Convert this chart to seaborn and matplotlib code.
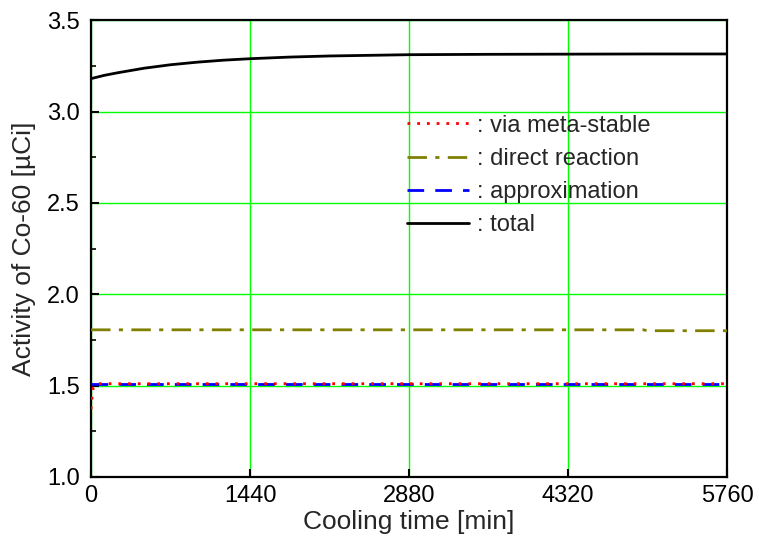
import matplotlib
matplotlib.use("Agg")
import matplotlib.pyplot as plt
import seaborn as sns
import pandas as pd
from matplotlib.ticker import MultipleLocator

# ---- data ----
t_meta = [0, 10, 20, 40, 60, 5760]
v_meta = [1.37, 1.45, 1.49, 1.505, 1.51, 1.51]

t_direct = [0, 5000, 5040, 5760]
v_direct = [1.805, 1.805, 1.80, 1.80]

t_approx = [0, 5760]
v_approx = [1.51, 1.51]

t_total = [0, 120, 240, 480, 720, 960, 1200, 1440, 1800, 2160, 2880, 3600, 4320, 5040, 5760]
v_total = [3.18, 3.198, 3.212, 3.237, 3.256, 3.27, 3.281, 3.289, 3.298, 3.304, 3.311, 3.313, 3.314, 3.315, 3.315]

labels = [": via meta-stable", ": direct reaction", ": approximation", ": total"]
x_ticks = [0, 1440, 2880, 4320, 5760]
y_ticks = [1.0, 1.5, 2.0, 2.5, 3.0, 3.5]

sns.set_theme(style="ticks")
plt.rcParams["font.family"] = ["Liberation Sans", "DejaVu Sans"]

fig, ax = plt.subplots(figsize=(7.59, 5.45), dpi=100)
fig.subplots_adjust(left=0.12, right=0.958, bottom=0.125, top=0.963)

df_meta = pd.DataFrame({"t": t_meta, "v": v_meta})
df_direct = pd.DataFrame({"t": t_direct, "v": v_direct})
df_approx = pd.DataFrame({"t": t_approx, "v": v_approx})
df_total = pd.DataFrame({"t": t_total, "v": v_total})

sns.lineplot(data=df_meta, x="t", y="v", ax=ax, color="#ff0000", linewidth=2,
             linestyle=(0, (1, 2.5)), label=labels[0], zorder=4)
sns.lineplot(data=df_direct, x="t", y="v", ax=ax, color="#808000", linewidth=2,
             linestyle=(0, (7, 3, 1.5, 3)), label=labels[1], zorder=3)
sns.lineplot(data=df_approx, x="t", y="v", ax=ax, color="#0000ff", linewidth=2,
             linestyle=(0, (6, 4)), label=labels[2], zorder=3)
sns.lineplot(data=df_total, x="t", y="v", ax=ax, color="black", linewidth=2,
             linestyle="-", label=labels[3], zorder=3)

ax.set_xlim(0, 5760)
ax.set_ylim(1.0, 3.5)
ax.set_xticks(x_ticks)
ax.set_xticklabels([str(x) for x in x_ticks])
ax.set_yticks(y_ticks)
ax.set_yticklabels([f"{y:.1f}" for y in y_ticks])
ax.yaxis.set_minor_locator(MultipleLocator(0.25))

ax.grid(True, which="major", color="#00ff00", linewidth=1.0, zorder=1)
ax.set_axisbelow(True)

ax.tick_params(which="both", direction="in", labelsize=17, colors="black")
ax.tick_params(which="major", length=6, width=1.5)
ax.tick_params(which="minor", length=3.5, width=1.2)
ax.tick_params(axis="y", pad=8)
ax.tick_params(axis="x", pad=6)

for s in ax.spines.values():
    s.set_linewidth(1.6)
    s.set_color("black")

ax.set_xlabel("Cooling time [min]", fontsize=19, labelpad=2)
ax.set_ylabel("Activity of Co-60 [\u00b5Ci]", fontsize=19, labelpad=8)

leg = ax.legend(loc="upper left", bbox_to_anchor=(0.497, 0.793), frameon=False,
                fontsize=17, handlelength=2.6, handletextpad=0.35,
                labelspacing=0.47, borderaxespad=0, borderpad=0)

fig.savefig("out.png", dpi=100)
